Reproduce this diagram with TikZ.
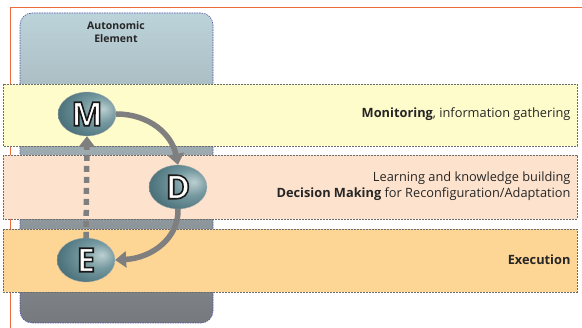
\documentclass[tikz,border=0pt]{standalone}
\usepackage{fontspec}
\setmainfont{Open Sans}
\setsansfont{Open Sans}
\usetikzlibrary{arrows.meta,shapes.geometric,shadings}
\definecolor{bandY}{HTML}{FFFCCB}
\definecolor{bandP}{HTML}{FDE3CE}
\definecolor{bandO}{HTML}{FDD595}
\definecolor{frameO}{HTML}{EE6A3A}
\definecolor{aeTop}{HTML}{BCD3DA}
\definecolor{aeMid}{HTML}{95A6AD}
\definecolor{aeBot}{HTML}{76797D}
\definecolor{arrowG}{HTML}{7F7F7F}
\pgfdeclareradialshading{ballsh}{\pgfpoint{14bp}{6bp}}{%
  color(0bp)=(rgb,255:red,188;green,207;blue,208);
  color(14bp)=(rgb,255:red,120;green,155;blue,162);
  color(30bp)=(rgb,255:red,80;green,118;blue,127);
  color(50bp)=(rgb,255:red,50;green,82;blue,90);
  color(70bp)=(rgb,255:red,40;green,66;blue,74)}
\tikzset{
  band/.style={draw=gray!85!black, dashed, dash pattern=on 2pt off 1pt, line width=0.6pt},
  letterball/.style={ellipse, minimum width=58pt, minimum height=44pt, inner sep=0pt, shading=ballsh, draw=black!30, line width=0.3pt},
  flowarrow/.style={draw=arrowG, line width=5.5pt, -{Triangle[length=11pt,width=16pt]}},
  lbl/.style={font=\fontsize{12.8}{16}\selectfont, text=black!85, align=right, anchor=east},
}
\newcommand{\outlineletter}[1]{\fontsize{33}{33}\selectfont\bfseries\color{white}\special{pdf:literal direct 0.1 0.1 0.1 RG 1.6 w 2 Tr}#1\special{pdf:literal direct 0 Tr}}
\begin{document}
\begin{tikzpicture}[x=1pt,y=-1pt]
\useasboundingbox (0,0) rectangle (582,328);
\fill[white] (0,0) rectangle (582,328);
% autonomic element column
\shade[top color=aeTop, middle color=aeMid, bottom color=aeBot, rounded corners=12pt]
  (20,13) rectangle (213,323);
\draw[draw=blue!35!gray, dashed, dash pattern=on 1.5pt off 1pt, line width=0.6pt, rounded corners=12pt]
  (20,13) rectangle (213,323);
\node[font=\fontsize{10.5}{13}\selectfont\bfseries, align=center, text=black!85] (ae) at (116,32) {Autonomic\\Element};
% frame lines
\draw[frameO, line width=0.9pt] (10,328) -- (10,7) -- (582,7);
% bands
\draw[band, fill=bandY] (3,84) rectangle (577,146);
\draw[band, fill=bandP] (3,155) rectangle (577,219);
\draw[band, fill=bandO] (3,229) rectangle (577,292);
% labels
\node[lbl] (tm) at (574,114) {\textbf{Monitoring}, information gathering};
\node[lbl] (td) at (574,186) {Learning and knowledge building\\\textbf{Decision Making} for Reconfiguration/Adaptation};
\node[lbl] (te) at (574,260) {\textbf{Execution}};
% balls
\node[letterball] (M) at (87,114) {\outlineletter{M}};
\node[letterball] (D) at (178,187) {\outlineletter{D}};
\node[letterball] (E) at (86,260) {\outlineletter{E}};
% connectors
\draw[flowarrow] (M.east) .. controls (150,114) and (172,135) .. (D.north);
\draw[flowarrow] (D.south) .. controls (179,238) and (152,258) .. (E.east);
\draw[flowarrow, dash pattern=on 6pt off 5pt] (E.north) -- (M.south);
\end{tikzpicture}
\end{document}
